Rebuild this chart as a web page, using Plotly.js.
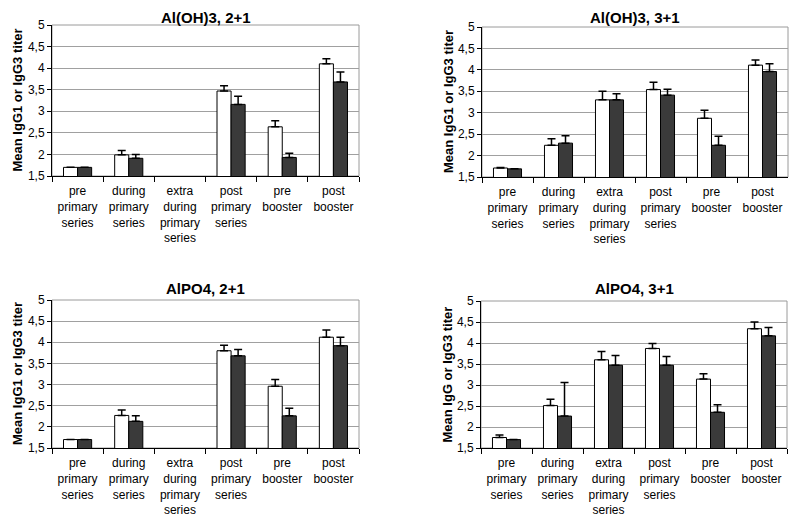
<!DOCTYPE html>
<html>
<head>
<meta charset="utf-8">
<script src="https://cdn.plot.ly/plotly-3.0.1.min.js"></script>
<style>html,body{margin:0;padding:0;background:#fff;}#chart{width:800px;height:521px;}</style>
</head>
<body>
<div id="chart"></div>
<script>
// Categories (x tick labels)
const categories = ["pre<br>primary<br>series", "during<br>primary<br>series", "extra<br>during<br>primary<br>series", "post<br>primary<br>series", "pre<br>booster", "post<br>booster"];
const yTickVals = [1.5, 2, 2.5, 3, 3.5, 4, 4.5, 5];
const yTickText = ["1,5", "2", "2,5", "3", "3,5", "4", "4,5", "5"];

const panelTitles = ["Al(OH)3, 2+1", "Al(OH)3, 3+1", "AlPO4, 2+1", "AlPO4, 3+1"];
const yTitles = ["Mean IgG1 or IgG3 titer", "Mean IgG1 or IgG3 titer", "Mean IgG1 or IgG3 titer", "Mean IgG or IgG3 titer"];

// Panel 1: Al(OH)3, 2+1
const p1White = [1.70, 1.99, null, 3.47, 2.64, 4.10];
const p1WhiteErr = [0, 0.10, null, 0.12, 0.14, 0.12];
const p1Dark = [1.70, 1.91, null, 3.16, 1.93, 3.68];
const p1DarkErr = [0, 0.09, null, 0.19, 0.10, 0.23];

// Panel 2: Al(OH)3, 3+1
const p2White = [1.71, 2.24, 3.30, 3.54, 2.87, 4.11];
const p2WhiteErr = [0.01, 0.15, 0.20, 0.17, 0.19, 0.12];
const p2Dark = [1.69, 2.29, 3.30, 3.41, 2.24, 3.96];
const p2DarkErr = [0, 0.17, 0.14, 0.14, 0.21, 0.18];

// Panel 3: AlPO4, 2+1
const p3White = [1.70, 2.27, null, 3.80, 2.96, 4.12];
const p3WhiteErr = [0, 0.13, null, 0.13, 0.16, 0.17];
const p3Dark = [1.70, 2.13, null, 3.68, 2.26, 3.92];
const p3DarkErr = [0, 0.13, null, 0.15, 0.18, 0.20];

// Panel 4: AlPO4, 3+1
const p4White = [1.75, 2.51, 3.60, 3.87, 3.14, 4.34];
const p4WhiteErr = [0.06, 0.15, 0.20, 0.12, 0.13, 0.16];
const p4Dark = [1.70, 2.26, 3.47, 3.47, 2.35, 4.17];
const p4DarkErr = [0, 0.80, 0.23, 0.21, 0.18, 0.20];

const panels = [
  {white: p1White, whiteErr: p1WhiteErr, dark: p1Dark, darkErr: p1DarkErr},
  {white: p2White, whiteErr: p2WhiteErr, dark: p2Dark, darkErr: p2DarkErr},
  {white: p3White, whiteErr: p3WhiteErr, dark: p3Dark, darkErr: p3DarkErr},
  {white: p4White, whiteErr: p4WhiteErr, dark: p4Dark, darkErr: p4DarkErr}
];

const W = 800, H = 521;
// plot area pixel boxes [left, right, top, bottom]
const boxes = [
  [52, 359, 25, 176],
  [482, 788, 27, 177],
  [52, 359, 300, 448],
  [481, 787, 301, 448]
];
const titleY = [17, 17, 288, 288];
const yTitleXs = [17, 448, 17, 447];

const FONT = "Liberation Sans, Arial, sans-serif";
const traces = [];
const layout = {
  width: W, height: H,
  margin: {l: 0, r: 0, t: 0, b: 0},
  paper_bgcolor: "#fff", plot_bgcolor: "#fff",
  showlegend: false,
  barmode: "group", bargap: 0.45, bargroupgap: 0,
  font: {family: FONT, size: 12, color: "#000"},
  annotations: [], shapes: []
};

panels.forEach((p, i) => {
  const n = i + 1;
  const xa = n === 1 ? "x" : "x" + n;
  const ya = n === 1 ? "y" : "y" + n;
  const mkErr = (arr) => ({type: "data", symmetric: false, array: arr, arrayminus: arr.map(v => 0), color: "#000", thickness: 1.5, width: 4});
  traces.push({
    type: "bar", x: categories, y: p.white, xaxis: xa, yaxis: ya,
    marker: {color: "#ffffff", line: {color: "#000", width: 1}},
    error_y: mkErr(p.whiteErr), hoverinfo: "skip"
  });
  traces.push({
    type: "bar", x: categories, y: p.dark, xaxis: xa, yaxis: ya,
    marker: {color: "#3a3a3a", line: {color: "#000", width: 1}},
    error_y: mkErr(p.darkErr), hoverinfo: "skip"
  });
  const b = boxes[i];
  const xKey = n === 1 ? "xaxis" : "xaxis" + n;
  const yKey = n === 1 ? "yaxis" : "yaxis" + n;
  layout[xKey] = {
    domain: [b[0] / W, b[1] / W], anchor: ya,
    type: "category", tickson: "boundaries",
    ticks: "outside", ticklen: 5, tickcolor: "#000", tickwidth: 1,
    ticklabelstandoff: 4,
    showline: true, linecolor: "#000", linewidth: 1,
    showgrid: false, zeroline: false,
    tickfont: {family: FONT, size: 12, color: "#000"},
    fixedrange: true
  };
  layout[yKey] = {
    domain: [1 - b[3] / H, 1 - b[2] / H], anchor: xa,
    range: [1.5, 5], tickvals: yTickVals, ticktext: yTickText,
    ticks: "outside", ticklen: 4, tickcolor: "#000",
    showline: true, linecolor: "#000", linewidth: 1,
    showgrid: true, gridcolor: "#a0a0a0", gridwidth: 1,
    zeroline: false,
    tickfont: {family: FONT, size: 12, color: "#000"},
    fixedrange: true
  };
  layout.shapes.push({
    type: "rect", xref: xa + " domain", yref: ya + " domain",
    x0: 0, x1: 1, y0: 0, y1: 1, line: {color: "#9a9a9a", width: 1}, layer: "below"
  });
  layout.annotations.push({
    text: "<b>" + panelTitles[i] + "</b>", xref: "paper", yref: "paper",
    x: ((b[0] + b[1]) / 2) / W, y: 1 - titleY[i] / H, xanchor: "center", yanchor: "middle",
    showarrow: false, font: {family: FONT, size: 15, color: "#000"}
  });
  layout.annotations.push({
    text: "<b>" + yTitles[i] + "</b>", xref: "paper", yref: "paper",
    x: yTitleXs[i] / W, y: 1 - ((b[2] + b[3]) / 2) / H, xanchor: "center", yanchor: "middle",
    textangle: -90, showarrow: false, font: {family: FONT, size: 13, color: "#000"}
  });
});

Plotly.newPlot("chart", traces, layout, {displayModeBar: false, staticPlot: true});
</script>
</body>
</html>
